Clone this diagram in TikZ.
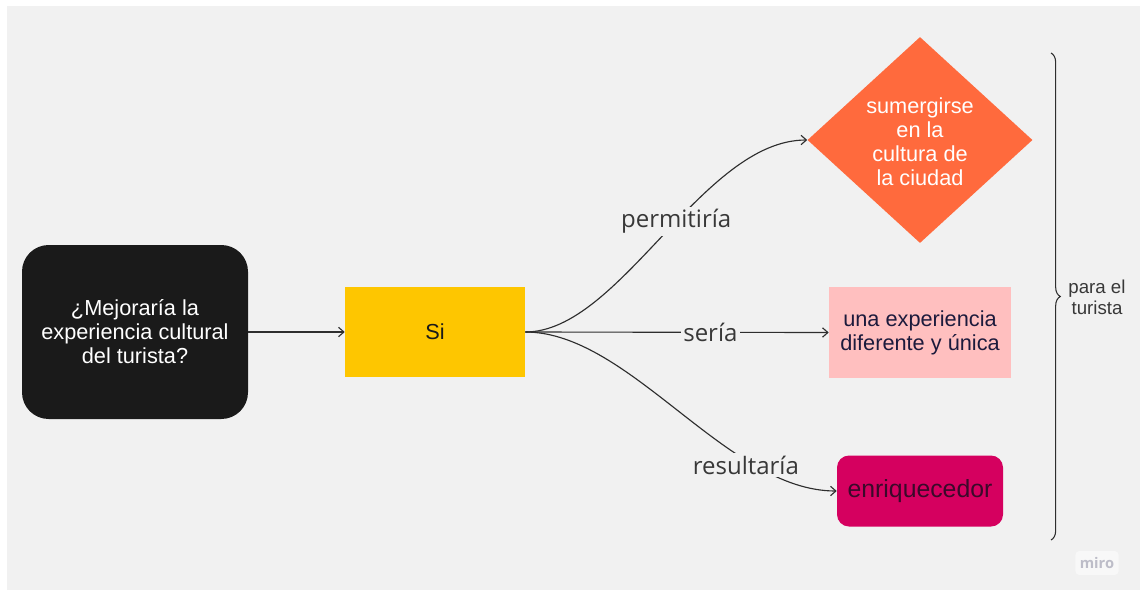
\documentclass[tikz,border=0pt]{standalone}
\usepackage{fontspec}
\setmainfont{Liberation Sans}
\newfontfamily\labfont{Open Sans}
\usetikzlibrary{arrows.meta,shapes.geometric,decorations.pathreplacing}
\definecolor{bgc}{HTML}{F1F1F1}
\definecolor{blk}{HTML}{1A1A1A}
\definecolor{yel}{HTML}{FEC600}
\definecolor{org}{HTML}{FF6A3D}
\definecolor{pnk}{HTML}{FFBFBF}
\definecolor{mag}{HTML}{D5005F}
\definecolor{navy}{HTML}{1C1A3C}
\definecolor{dmag}{HTML}{3A0A2A}
\definecolor{linec}{HTML}{2E2E2E}
\definecolor{labc}{HTML}{383838}
\definecolor{mirot}{HTML}{BDBDC8}
\begin{document}
\begin{tikzpicture}[x=0.75pt,y=-0.75pt,
  conn/.style={draw=linec, line width=0.85pt, -{Straight Barb[length=4pt,width=7pt]}},
  lab/.style={fill=bgc, text=labc, font=\labfont\fontsize{18}{20}\selectfont, inner sep=2pt},
  txt/.style={font=\fontsize{16.3}{18}\selectfont, align=center, inner sep=0pt},
]
\useasboundingbox (0,0) rectangle (1140,590);
\fill[white] (0,0) rectangle (1140,590);
\fill[bgc] (7,6) rectangle (1140,590);

\node[txt, fill=blk, text=white, rounded corners=20pt, minimum width=169.5pt, minimum height=130.5pt] (q) at (135,332)
  {¿Mejoraría la\\experiencia cultural\\del turista?};
\node[txt, fill=yel, text=blk, minimum width=135pt, minimum height=67.5pt] (si) at (435,332) {Si};
\node[txt, shape=diamond, fill=org, text=white, minimum width=168.75pt, minimum height=154.5pt] (dia) at (920,140) {};
\node[txt, text=white] (diat) at (920,142) {sumergirse\\en la\\cultura de\\la ciudad};
\node[txt, fill=pnk, text=navy, minimum width=136.5pt, minimum height=68.25pt] (pk) at (920,332.5)
  {una experiencia\\diferente y única};
\node[txt, fill=mag, text=dmag, rounded corners=9pt, minimum width=124.5pt, minimum height=53.25pt,
  font=\fontsize{18.6}{20}\selectfont] (mg) at (920,491) {enriquecedor};

\draw[conn] (q.east) -- (si.west);
\draw[conn] (si.east) .. controls +(95,0) and +(-105,0) .. (dia.west) node[lab,pos=0.55] {permitiría};
\draw[conn] (si.east) -- (pk.west) node[lab,pos=0.61] {sería};
\draw[conn] (si.east) .. controls +(105,0) and +(-110,0) .. (mg.west) node[lab,pos=0.745,xshift=-6.75pt] {resultaría};

\draw[linec, line width=0.8pt, decorate, decoration={brace, amplitude=7pt}] (1051,53) -- (1051,540);
\node[align=center, text=labc, font=\fontsize{14}{15.75}\selectfont] (pt) at (1097,297) {para el\\turista};

\node[fill=white!50!bgc, rounded corners=3pt, text=mirot, font=\labfont\bfseries\fontsize{11}{12}\selectfont,
  minimum width=30pt, minimum height=18pt] (miro) at (1097,563) {miro};
\end{tikzpicture}
\end{document}
